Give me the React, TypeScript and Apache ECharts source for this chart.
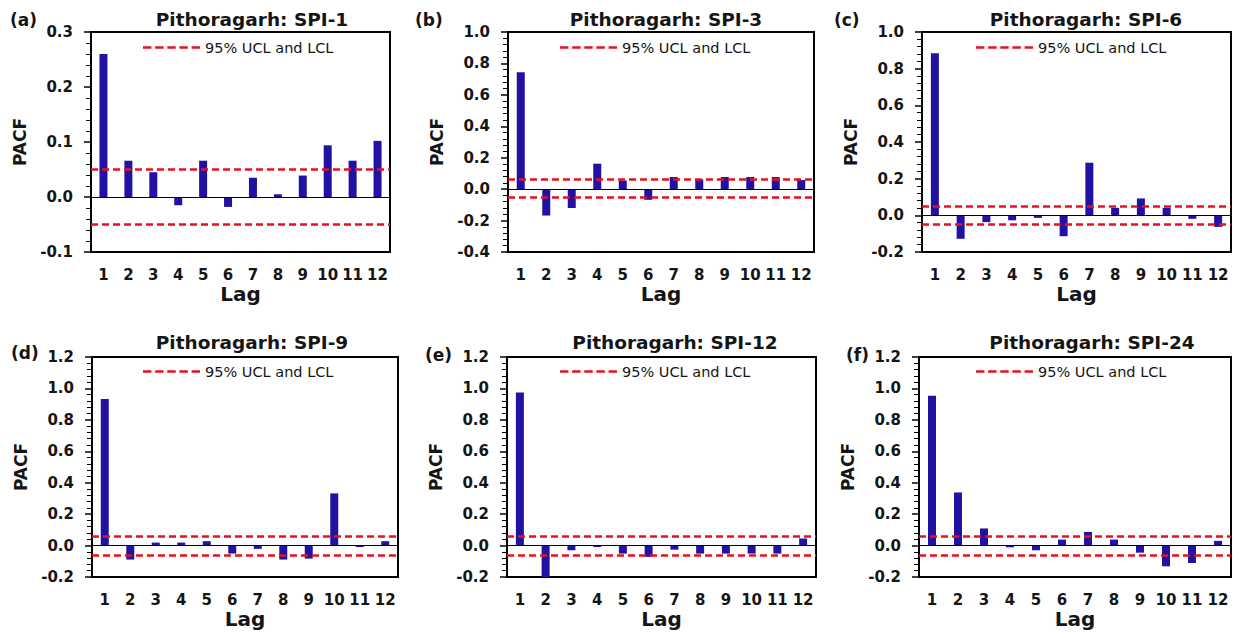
import React, { useEffect, useRef } from "react";
import * as echarts from "echarts";

// ---------- data ----------
const LAGS = ["1", "2", "3", "4", "5", "6", "7", "8", "9", "10", "11", "12"];
const PANEL_TITLES = [
  "Pithoragarh: SPI-1",
  "Pithoragarh: SPI-3",
  "Pithoragarh: SPI-6",
  "Pithoragarh: SPI-9",
  "Pithoragarh: SPI-12",
  "Pithoragarh: SPI-24",
];
const PANEL_LETTERS = ["(a)", "(b)", "(c)", "(d)", "(e)", "(f)"];
const SPI1 = [0.26, 0.066, 0.045, -0.015, 0.066, -0.018, 0.035, 0.005, 0.039, 0.094, 0.066, 0.102];
const SPI3 = [0.744, -0.168, -0.12, 0.162, 0.055, -0.068, 0.077, 0.062, 0.077, 0.077, 0.077, 0.058];
const SPI6 = [0.884, -0.128, -0.037, -0.027, -0.014, -0.114, 0.287, 0.041, 0.092, 0.041, -0.019, -0.063];
const SPI9 = [0.932, -0.089, 0.019, 0.019, 0.028, -0.051, -0.021, -0.089, -0.083, 0.332, -0.009, 0.028];
const SPI12 = [0.974, -0.2, -0.03, -0.009, -0.051, -0.072, -0.026, -0.051, -0.051, -0.051, -0.051, 0.045];
const SPI24 = [0.953, 0.338, 0.109, -0.011, -0.03, 0.038, 0.087, 0.038, -0.045, -0.132, -0.111, 0.03];
const PACF = [SPI1, SPI3, SPI6, SPI9, SPI12, SPI24];
const UCL = [0.053, 0.056, 0.053, 0.057, 0.057, 0.057];
const LCL = [-0.053, -0.052, -0.05, -0.055, -0.055, -0.055];
const Y_MIN = [-0.1, -0.4, -0.2, -0.2, -0.2, -0.2];
const Y_MAX = [0.3, 1.0, 1.0, 1.2, 1.2, 1.2];
const Y_STEP = [0.1, 0.2, 0.2, 0.2, 0.2, 0.2];
const LIMIT_NAME = "95% UCL and LCL";

// ---------- layout ----------
const GRID_LEFT = [91, 508, 922, 92, 507, 919];
const GRID_RIGHT_EDGE = [390, 814, 1231, 398, 816, 1231];
const GRID_TOP = [32, 32, 32, 357, 357, 357];
const GRID_H = 220;
const TITLE_X = [252, 666, 1086, 252, 675, 1092];
const TITLE_Y = [19, 19, 19, 342, 342, 342];
const LETTER_X = [10, 415, 834, 11, 425, 846];
const LETTER_Y = [20, 20, 20, 353, 355, 355];
const LEGEND_LEFT = [143, 560, 976, 143, 560, 976];
const LEGEND_TOP = [40, 40, 40, 364, 364, 364];

const FONT = '"DejaVu Sans", sans-serif';
const BAR_COLOR = "#2212a3";
const RED = "#e8101e";
const TEXT = "#151515";
const DASH_ICON =
  "path://M0 0H8.4V2.5H0Z M12.15 0H20.55V2.5H12.15Z M24.3 0H32.7V2.5H24.3Z M36.45 0H44.85V2.5H36.45Z M48.6 0H57V2.5H48.6Z";

export default function App() {
  const ref = useRef<HTMLDivElement>(null);

  useEffect(() => {
    if (!ref.current) return;
    const chart = echarts.init(ref.current, undefined, { renderer: "svg" });
    const idx = [0, 1, 2, 3, 4, 5];

    const grid = idx.map((i) => ({
      left: GRID_LEFT[i],
      top: GRID_TOP[i],
      width: GRID_RIGHT_EDGE[i] - GRID_LEFT[i],
      height: GRID_H,
      show: true,
      borderColor: "#000",
      borderWidth: 2,
      backgroundColor: "transparent",
    }));

    const xAxis = idx.map((i) => ({
      type: "category",
      gridIndex: i,
      data: LAGS,
      axisLine: { show: false },
      axisTick: { show: false },
      axisLabel: {
        interval: 0,
        margin: 15,
        fontFamily: FONT,
        fontWeight: "bold",
        fontSize: 15,
        color: TEXT,
      },
      name: "Lag",
      nameLocation: "middle",
      nameGap: 32,
      nameTextStyle: { fontFamily: FONT, fontWeight: "bold", fontSize: 20, color: TEXT },
      splitLine: { show: false },
    }));

    const yAxis = idx.map((i) => ({
      type: "value",
      gridIndex: i,
      min: Y_MIN[i],
      max: Y_MAX[i],
      interval: Y_STEP[i],
      axisLine: { show: false },
      axisTick: { show: true, inside: false, length: 7, lineStyle: { color: "#000", width: 1.5 } },
      minorTick: { show: true, splitNumber: 5, length: 5, lineStyle: { color: "#000", width: 1 } },
      splitLine: { show: false },
      minorSplitLine: { show: false },
      axisLabel: {
        margin: 18,
        fontFamily: FONT,
        fontWeight: "bold",
        fontSize: 15,
        color: TEXT,
        formatter: (v: number) => v.toFixed(1),
      },
      name: "PACF",
      nameLocation: "middle",
      nameGap: 63,
      nameTextStyle: { fontFamily: FONT, fontWeight: "bold", fontSize: 17, color: TEXT },
    }));

    const series: any[] = [];
    idx.forEach((i) => {
      series.push({
        type: "bar",
        name: "PACF",
        xAxisIndex: i,
        yAxisIndex: i,
        data: PACF[i],
        barWidth: 8,
        itemStyle: { color: BAR_COLOR },
        markLine: {
          silent: true,
          symbol: ["none", "none"],
          label: { show: false },
          lineStyle: { color: "#000", width: 1, type: "solid" },
          data: [{ yAxis: 0 }],
        },
      });
      series.push({
        type: "line",
        name: LIMIT_NAME,
        xAxisIndex: i,
        yAxisIndex: i,
        data: [],
        symbol: "none",
        lineStyle: { color: RED, width: 2.5, type: [7, 4] },
        itemStyle: { color: RED },
        markLine: {
          silent: true,
          symbol: ["none", "none"],
          label: { show: false },
          lineStyle: { color: RED, width: 2.5, type: [7, 4] },
          data: [{ yAxis: UCL[i] }, { yAxis: LCL[i] }],
        },
      });
    });

    const legend = idx.map((i) => ({
      data: [{ name: LIMIT_NAME, icon: DASH_ICON }],
      left: LEGEND_LEFT[i],
      top: LEGEND_TOP[i],
      padding: 0,
      itemWidth: 57,
      itemHeight: 2.5,
      selectedMode: false,
      itemStyle: { color: RED, borderWidth: 0 },
      textStyle: { fontFamily: FONT, fontSize: 14.5, color: TEXT },
    }));

    const graphic: any[] = [];
    idx.forEach((i) => {
      graphic.push({
        type: "text",
        x: TITLE_X[i],
        y: TITLE_Y[i],
        style: {
          text: PANEL_TITLES[i],
          fontFamily: FONT,
          fontWeight: "bold",
          fontSize: 18.5,
          fill: TEXT,
          align: "center",
          verticalAlign: "middle",
        },
      });
      graphic.push({
        type: "text",
        x: LETTER_X[i],
        y: LETTER_Y[i],
        style: {
          text: PANEL_LETTERS[i],
          fontFamily: FONT,
          fontWeight: "bold",
          fontSize: 17,
          fill: TEXT,
          align: "left",
          verticalAlign: "middle",
        },
      });
    });

    chart.setOption({
      animation: false,
      backgroundColor: "#fff",
      grid,
      xAxis,
      yAxis,
      legend,
      series,
      graphic,
    });

    return () => chart.dispose();
  }, []);

  return (
    <div
      ref={ref}
      style={{ position: "fixed", left: 0, top: 0, width: 1244, height: 638, background: "#fff" }}
    />
  );
}
